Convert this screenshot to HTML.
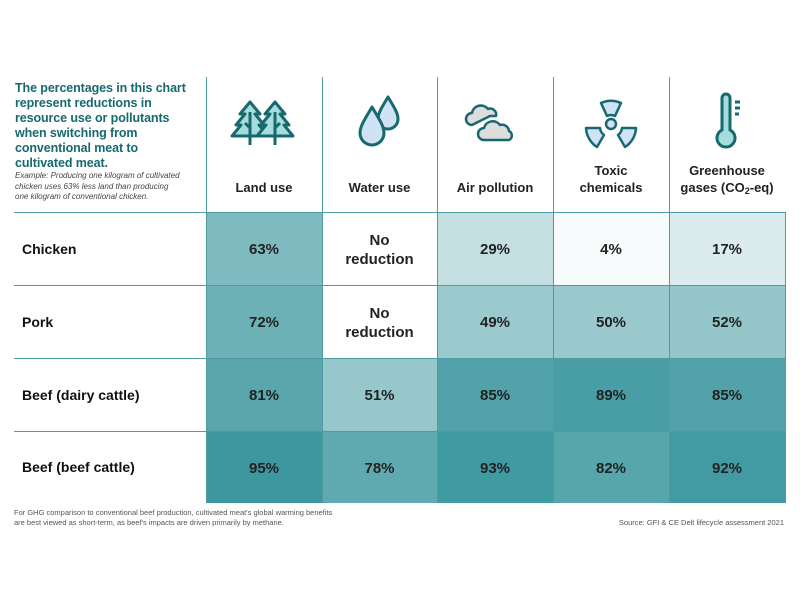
<!DOCTYPE html>
<html><head><meta charset="utf-8"><style>
body{margin:0;width:800px;height:600px;background:#fff;font-family:"Liberation Sans",sans-serif;position:relative;overflow:hidden}
.a{position:absolute}
.hl{position:absolute;height:1px;background:#4e9ca2}
.vl{position:absolute;width:1px;background:#4e9ca2}
.cell{position:absolute;display:flex;align-items:center;justify-content:center;text-align:center;font-weight:bold;font-size:15px;color:#222;line-height:19px;padding-top:2px;box-sizing:border-box}
.col{position:absolute;display:flex;align-items:flex-end;justify-content:center;text-align:center;font-weight:bold;font-size:13px;color:#222;line-height:17px;white-space:nowrap}
.row{position:absolute;left:22px;font-weight:bold;font-size:14px;color:#111;display:flex;align-items:center}
</style></head><body>
<div class="a" style="left:15px;top:81px;width:185px;font-weight:bold;font-size:12.5px;line-height:15px;letter-spacing:-0.1px;color:#17696f;white-space:nowrap">The percentages in this chart<br>represent reductions in<br>resource use or pollutants<br>when switching from<br>conventional meat to<br>cultivated meat.</div>
<div class="a" style="left:15px;top:171px;width:180px;font-style:italic;font-size:8px;line-height:10.5px;color:#444;white-space:nowrap">Example: Producing one kilogram of cultivated<br>chicken uses 63% less land than producing<br>one kilogram of conventional chicken.</div>
<div id="g"></div>
<svg class="a" style="left:0;top:0" width="800" height="200" fill="none" stroke="#17696f" stroke-width="3" stroke-linejoin="round">
<g><path d="M250 102 l-10 12 h5 l-9 11 h5 l-9 11 h36 l-9-11 h5 l-9-11 h5z" fill="#a6dcdc"/><path d="M275 102 l-10 12 h5 l-9 11 h5 l-9 11 h36 l-9-11 h5 l-9-11 h5z" fill="#a6dcdc"/><path d="M250 112v33M275 112v33M250 128l-5-5M275 128l5-5"/></g>
<g><path d="M388 97 c-6 10-10 16-10 22a10 10 0 0 0 20 0c0-6-4-12-10-22z" fill="#cfe3f5"/><path d="M372 107 c-7 12-12 19-12 26a12 12 0 0 0 24 0c0-7-5-14-12-26z" fill="#cfe3f5"/></g>
<g stroke-width="2.5"><path d="M472 125 a6 6 0 0 1 0-12 a9 9 0 0 1 16-4 a6 6 0 0 1 8 7 h-6 z" fill="#ddd"/><path d="M484 140 a6 6 0 0 1 0-12 a9 9 0 0 1 16-3 a7 7 0 0 1 9 6 a5 5 0 0 1 0 9z" fill="#ddd"/></g>
<g stroke-width="2.5"><circle cx="611" cy="124" r="5" fill="#cfe3f5"/><path d="M601 103 a24 24 0 0 1 20 0 l-6 13 a9 9 0 0 0-8 0z" fill="#cfe3f5"/><path d="M586 128 h14 a10 10 0 0 0 4 7 l-7 12 a24 24 0 0 1-11-19z" fill="#cfe3f5"/><path d="M636 128 h-14 a10 10 0 0 1-4 7 l7 12 a24 24 0 0 0 11-19z" fill="#cfe3f5"/></g>
<g><path d="M722 98 a4 4 0 0 1 8 0 v32 a9 9 0 1 1-8 0z" fill="#a6dcdc"/><path d="M735 102h5M735 108h5M735 114h4"/></g>
</svg>
<div class="a" style="left:14px;top:508px;font-size:7.5px;line-height:10px;color:#555">For GHG comparison to conventional beef production, cultivated meat's global warming benefits<br>are best viewed as short-term, as beef's impacts are driven primarily by methane.</div>
<div class="a" style="right:16px;top:518px;font-size:7.5px;color:#555">Source: GFI &amp; CE Delt lifecycle assessment 2021</div>
<script>
const columns=["Land use","Water use","Air pollution","Toxic<br>chemicals","Greenhouse<br>gases (CO<span style='font-size:9px;line-height:0;position:relative;top:2px'>2</span>-eq)"];
const rows=["Chicken","Pork","Beef (dairy cattle)","Beef (beef cattle)"];
const landUse=[63,72,81,95];
const waterUse=[null,null,51,78];
const airPollution=[29,49,85,93];
const toxicChemicals=[4,50,89,82];
const greenhouse=[17,52,85,92];
const series=[landUse,waterUse,airPollution,toxicChemicals,greenhouse];
const xs=[206,322,437,553,669,785], ys=[212,285,358,431,503];
const g=document.getElementById('g');
function color(v){const t=v/100;const f=c=>Math.round(255-(255-c)*t);return `rgb(${f(50)},${f(146)},${f(154)})`;}
series.forEach((s,c)=>{s.forEach((v,r)=>{
 const d=document.createElement('div');d.className='cell';
 
 
 d.style.left=xs[c]+'px';d.style.top=ys[r]+'px';d.style.width=(xs[c+1]-xs[c])+'px';d.style.height=(ys[r+1]-ys[r])+'px';
 if(v===null){d.innerHTML='<div>No<br>reduction</div>';d.style.background='#fff';}else{d.textContent=v+'%';d.style.background=color(v);}
 g.appendChild(d);});});
columns.forEach((t,c)=>{const d=document.createElement('div');d.className='col';
 
 
 d.style.left=xs[c]+'px';d.style.width=(xs[c+1]-xs[c])+'px';d.style.top='150px';d.style.height='46px';d.innerHTML='<div>'+t+'</div>';g.appendChild(d);});
rows.forEach((t,r)=>{const d=document.createElement('div');d.className='row';
 
 
 d.style.top=ys[r]+'px';d.style.height=(ys[r+1]-ys[r])+'px';d.textContent=t;g.appendChild(d);});
xs.forEach((x,i)=>{const l=document.createElement('div');l.className='vl';
 
 
 l.style.left=x+'px';l.style.top=(i==xs.length-1?212:77)+'px';l.style.height=(503-(i==xs.length-1?212:77))+'px';g.appendChild(l);});
ys.slice(0,4).forEach(y=>{const l=document.createElement('div');l.className='hl';
 
 
 l.style.left='14px';l.style.top=y+'px';l.style.width='772px';g.appendChild(l);});
</script>
</body></html>
